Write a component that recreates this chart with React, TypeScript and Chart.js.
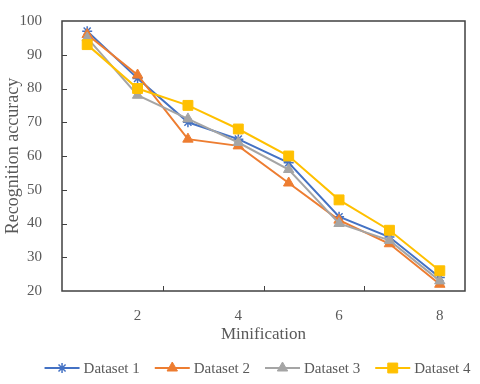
import React, { useEffect, useRef } from 'react';
import { Chart, registerables } from 'chart.js';
import { drawPoint } from 'chart.js/helpers';

Chart.register(...registerables);

const categories = ['1', '2', '3', '4', '5', '6', '7', '8'];
const shownXLabels = ['2', '4', '6', '8'];
const seriesNames = ['Dataset 1', 'Dataset 2', 'Dataset 3', 'Dataset 4'];
const dataset1 = [97, 83, 70, 65, 58, 42, 36, 24];
const dataset2 = [96, 84, 65, 63, 52, 41, 34, 22];
const dataset3 = [95, 78, 71, 64, 56, 40, 35, 23];
const dataset4 = [93, 80, 75, 68, 60, 47, 38, 26];
const seriesColors = ['#4472C4', '#ED7D31', '#A5A5A5', '#FFC000'];
const yMin = 20;
const yMax = 100;
const yStep = 10;
const yTitle = 'Recognition accuracy';
const xTitle = 'Minification';

const FONT = "'Liberation Serif', 'Times New Roman', serif";
const TEXT = '#595959';

const framePlugin = {
  id: 'frameTicks',
  beforeDatasetsDraw(chart: any) {
    const { ctx, chartArea: ca, scales } = chart;
    ctx.save();
    ctx.strokeStyle = '#404040';
    ctx.lineWidth = 1.5;
    ctx.strokeRect(ca.left, ca.top, ca.right - ca.left, ca.bottom - ca.top);
    const xs = scales.x;
    const ys = scales.y;
    ctx.lineWidth = 1;
    for (let i = 1; i + 1 < categories.length; i += 2) {
      const px = Math.round((xs.getPixelForValue(i) + xs.getPixelForValue(i + 1)) / 2) + 0.5;
      ctx.beginPath();
      ctx.moveTo(px, ca.bottom);
      ctx.lineTo(px, ca.bottom - 5);
      ctx.stroke();
    }
    ys.ticks.forEach((t: any) => {
      if (t.value <= yMin || t.value >= yMax) return;
      const py = Math.round(ys.getPixelForValue(t.value)) + 0.5;
      ctx.beginPath();
      ctx.moveTo(ca.left, py);
      ctx.lineTo(ca.left + 5, py);
      ctx.stroke();
    });
    ctx.restore();
  },
};

const legendPlugin = {
  id: 'lineLegend',
  afterDraw(chart: any) {
    const { ctx, chartArea: ca } = chart;
    ctx.save();
    ctx.font = `15px ${FONT}`;
    ctx.textBaseline = 'middle';
    ctx.textAlign = 'left';
    const lineLen = 35;
    const gapText = 4;
    const gapItem = 15;
    const dss = chart.data.datasets;
    const widths = dss.map((d: any) => ctx.measureText(d.label).width);
    const total =
      widths.reduce((s: number, w: number) => s + lineLen + gapText + w, 0) + gapItem * (dss.length - 1);
    let x = (ca.left + ca.right) / 2 - 6 - total / 2;
    const y = chart.height - 16;
    dss.forEach((d: any, i: number) => {
      ctx.strokeStyle = d.borderColor;
      ctx.lineWidth = 2;
      ctx.beginPath();
      ctx.moveTo(x, y);
      ctx.lineTo(x + lineLen, y);
      ctx.stroke();
      ctx.fillStyle = d.pointBackgroundColor;
      ctx.strokeStyle = d.pointBorderColor;
      ctx.lineWidth = d.pointBorderWidth;
      drawPoint(ctx, { pointStyle: d.pointStyle, radius: d.pointRadius, rotation: 0, borderWidth: d.pointBorderWidth }, x + lineLen / 2, y);
      ctx.fillStyle = TEXT;
      ctx.fillText(d.label, x + lineLen + gapText, y + 1);
      x += lineLen + gapText + widths[i] + gapItem;
    });
    ctx.restore();
  },
};

function makeDataset(i: number, data: number[], style: string, radius: number, order: number) {
  return {
    label: seriesNames[i],
    data,
    borderColor: seriesColors[i],
    backgroundColor: seriesColors[i],
    pointBackgroundColor: seriesColors[i],
    pointBorderColor: seriesColors[i],
    pointBorderWidth: style === 'star' ? 1.5 : 1,
    pointStyle: style,
    pointRadius: radius,
    borderWidth: 2,
    tension: 0,
    fill: false,
    order,
  };
}

export default function App() {
  const ref = useRef<HTMLCanvasElement | null>(null);
  useEffect(() => {
    document.body.style.margin = '0';
    if (!ref.current) return;
    const chart = new Chart(ref.current, {
      type: 'line',
      data: {
        labels: categories,
        datasets: [
          makeDataset(0, dataset1, 'star', 5, 3),
          makeDataset(1, dataset2, 'triangle', 6, 2),
          makeDataset(2, dataset3, 'triangle', 6, 1),
          makeDataset(3, dataset4, 'rect', 7, 0),
        ] as any,
      },
      options: {
        responsive: false,
        animation: false,
        devicePixelRatio: 1,
        layout: { padding: { top: 14, right: 15, left: 0, bottom: 0 } },
        plugins: {
          legend: { display: false },
          tooltip: { enabled: false },
        },
        scales: {
          x: {
            type: 'category',
            offset: true,
            grid: { display: false },
            border: { display: false },
            ticks: {
              autoSkip: false,
              maxRotation: 0,
              padding: 8,
              color: TEXT,
              font: { family: FONT, size: 15 },
              callback: (_v: any, idx: number) =>
                shownXLabels.includes(categories[idx]) ? categories[idx] : '',
            },
            title: {
              display: true,
              text: xTitle,
              color: TEXT,
              font: { family: FONT, size: 17 },
              padding: { top: 0, bottom: 39 },
            },
            afterFit: (s: any) => {
              s.height = 93;
            },
          },
          y: {
            min: yMin,
            max: yMax,
            grid: { display: false },
            border: { display: false },
            ticks: {
              stepSize: yStep,
              padding: 12,
              color: TEXT,
              font: { family: FONT, size: 15 },
            },
            title: {
              display: true,
              text: yTitle,
              color: TEXT,
              font: { family: FONT, size: 18 },
              padding: { top: 2, bottom: 0 },
            },
            afterFit: (s: any) => {
              s.width = 62;
            },
          },
        },
      } as any,
      plugins: [framePlugin, legendPlugin],
    });
    return () => chart.destroy();
  }, []);
  return (
    <div style={{ width: 480, height: 384 }}>
      <canvas ref={ref} width={480} height={384} />
    </div>
  );
}
